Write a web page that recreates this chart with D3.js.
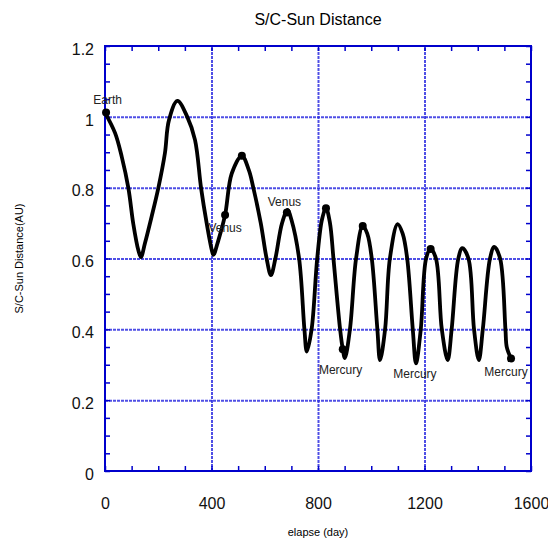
<!DOCTYPE html>
<html>
<head>
<meta charset="utf-8">
<script src="https://cdn.jsdelivr.net/npm/d3@7"></script>
<style>
body { margin: 0; background: #fff; }
svg { display: block; font-family: "Liberation Sans", Arial, sans-serif; }
.minor line { stroke: #0000cc; stroke-width: 1.5; }
.minor path { stroke-width: 0; }
.grid line { stroke: #2f2fe0; stroke-width: 2; stroke-dasharray: 3,1; stroke-opacity: 0.85; }
.grid path { stroke-width: 0; }
.lbl path, .lbl line { stroke-width: 0; }
.lbl text { font-size: 16px; fill: #111; }
</style>
</head>
<body>
<div id="chart"></div>
<script>
var width = 548;
var height = 540;
var margin = ({top: 46, right: 17, bottom: 69, left: 105});

// trajectory: elapsed day vs. S/C-Sun distance (AU)
var days = [0, 38, 63, 88, 106, 125, 135, 150, 175, 200, 225, 240, 272, 309, 338, 361, 382, 401, 407,
  426, 451, 476, 514, 540, 557, 585, 607, 623, 640, 665, 686, 700, 729, 749, 758, 776, 797, 815, 830,
  845, 858, 883, 893, 901, 920, 943, 968, 985, 1002, 1023, 1033, 1052, 1070, 1099, 1118, 1135, 1156,
  1168, 1186, 1206, 1223, 1243, 1265, 1287, 1302, 1327, 1342, 1365, 1386, 1404, 1419, 1446, 1462,
  1484, 1504, 1509, 1525];
var dist = [1.012, 0.954, 0.887, 0.798, 0.699, 0.624, 0.604, 0.643, 0.718, 0.798, 0.897, 0.99, 1.045, 1.0, 0.935, 0.798, 0.699, 0.624, 0.61,
  0.652, 0.723, 0.84, 0.89, 0.85, 0.8, 0.7, 0.6, 0.553, 0.6, 0.7, 0.737, 0.71, 0.6, 0.4, 0.337, 0.4, 0.6, 0.71, 0.742,
  0.7, 0.6, 0.4, 0.344, 0.319, 0.4, 0.6, 0.692, 0.67, 0.6, 0.4, 0.313, 0.4, 0.6, 0.697, 0.67, 0.6, 0.4,
  0.304, 0.4, 0.6, 0.627, 0.6, 0.4, 0.313, 0.4, 0.6, 0.629, 0.6, 0.4, 0.313, 0.4, 0.6, 0.633,
  0.6, 0.4, 0.35, 0.318];

// marked points on the curve
var dotDays = [4, 451, 683, 893, 1525, 514, 830, 968, 1223];
var dotDist = [1.012, 0.723, 0.73, 0.344, 0.318, 0.89, 0.742, 0.692, 0.627];

// planet flyby labels (anchored at text centre / baseline)
var flybyNames = ["Earth", "Venus", "Venus", "Mercury", "Mercury", "Mercury"];
var flybyDays = [10, 451, 674, 885, 1164, 1506];
var flybyDist = [1.036, 0.676, 0.749, 0.274, 0.262, 0.268];

var xTicks = [0, 400, 800, 1200, 1600];
var yTicks = [0, 0.2, 0.4, 0.6, 0.8, 1, 1.2];

var data = days.map((d, i) => ({day: d, au: dist[i]}));

var x_scale = d3.scaleLinear().domain([0, 1600]).range([margin.left, width - margin.right]);
var y_scale = d3.scaleLinear().domain([0, 1.2]).range([height - margin.bottom, margin.top]);

var svg = d3.select("#chart").append("svg")
  .attr("width", width).attr("height", height);

// gridlines
svg.append("g").attr("class", "grid")
  .attr("transform", `translate(0,${height - margin.bottom})`)
  .call(d3.axisBottom(x_scale).tickValues([400, 800, 1200])
    .tickSize(-(height - margin.top - margin.bottom)).tickFormat(""));
svg.append("g").attr("class", "grid")
  .attr("transform", `translate(${margin.left},0)`)
  .call(d3.axisLeft(y_scale).tickValues([0.2, 0.4, 0.6, 0.8, 1.0])
    .tickSize(-(width - margin.left - margin.right)).tickFormat(""));

// minor ticks, all pointing inward
var xm = d3.range(0, 1601, 100);
var ym = d3.range(0, 25).map(i => i * 0.05);
svg.append("g").attr("class", "minor")
  .attr("transform", `translate(0,${height - margin.bottom})`)
  .call(d3.axisBottom(x_scale).tickValues(xm).tickSize(-5).tickFormat(""));
svg.append("g").attr("class", "minor")
  .attr("transform", `translate(0,${margin.top})`)
  .call(d3.axisTop(x_scale).tickValues(xm).tickSize(-5).tickFormat(""));
svg.append("g").attr("class", "minor")
  .attr("transform", `translate(${margin.left},0)`)
  .call(d3.axisLeft(y_scale).tickValues(ym).tickSize(-5).tickFormat(""));
svg.append("g").attr("class", "minor")
  .attr("transform", `translate(${width - margin.right},0)`)
  .call(d3.axisRight(y_scale).tickValues(ym).tickSize(-5).tickFormat(""));

// frame
svg.append("rect")
  .attr("x", margin.left).attr("y", margin.top)
  .attr("width", width - margin.left - margin.right)
  .attr("height", height - margin.top - margin.bottom)
  .attr("fill", "none").attr("stroke", "#0000cc").attr("stroke-width", 2);

// tick labels
svg.append("g").attr("class", "lbl")
  .attr("transform", `translate(0,${height - margin.bottom})`)
  .call(d3.axisBottom(x_scale).tickValues(xTicks).tickSize(0).tickPadding(27).tickFormat(d3.format("d")));
svg.append("g").attr("class", "lbl")
  .attr("transform", `translate(${margin.left},0)`)
  .call(d3.axisLeft(y_scale).tickValues(yTicks).tickSize(0).tickPadding(11).tickFormat(d => d))
  .selectAll("text").attr("dy", "0.52em");

// trajectory
var line = d3.line()
  .x(d => x_scale(d.day))
  .y(d => y_scale(d.au))
  .curve(d3.curveCatmullRom.alpha(0.5));

svg.append("path")
  .datum(data)
  .attr("fill", "none")
  .attr("stroke", "#000")
  .attr("stroke-width", 3.8)
  .attr("stroke-linejoin", "round")
  .attr("d", line);

svg.selectAll("circle.dot")
  .data(dotDays).enter().append("circle")
  .attr("class", "dot")
  .attr("cx", d => x_scale(d))
  .attr("cy", (d, i) => y_scale(dotDist[i]))
  .attr("r", 4)
  .attr("fill", "#000");

svg.selectAll("text.flyby")
  .data(flybyNames).enter().append("text")
  .attr("class", "flyby")
  .attr("x", (d, i) => x_scale(flybyDays[i]))
  .attr("y", (d, i) => y_scale(flybyDist[i]))
  .attr("text-anchor", "middle")
  .attr("font-size", 12)
  .attr("fill", "#222")
  .text(d => d);

// titles
svg.append("text")
  .attr("x", 318).attr("y", 25)
  .attr("text-anchor", "middle")
  .attr("font-size", 16)
  .text("S/C-Sun Distance");

svg.append("text")
  .attr("transform", `translate(23,${(margin.top + height - margin.bottom) / 2}) rotate(-90)`)
  .attr("text-anchor", "middle")
  .attr("font-size", 11)
  .text("S/C-Sun Distance(AU)");

svg.append("text")
  .attr("x", 318).attr("y", 536)
  .attr("text-anchor", "middle")
  .attr("font-size", 11)
  .text("elapse (day)");
</script>
</body>
</html>
